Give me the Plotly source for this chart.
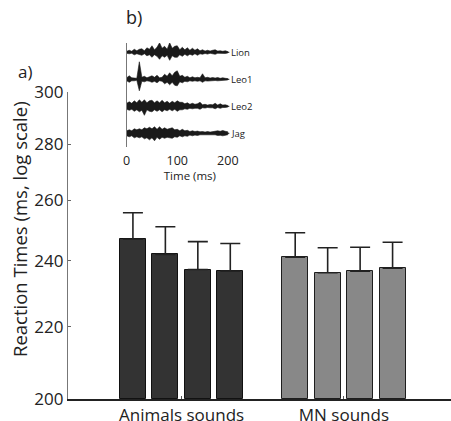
import math
import plotly.graph_objects as go

# ---------------- data ----------------
categories = ["Animals sounds", "MN sounds"]
bar_offsets = [-0.3, -0.1, 0.1, 0.3]
animals_rt = [247.0, 242.1, 237.3, 236.8]
animals_err = [8.8, 9.0, 8.9, 8.8]
mn_rt = [241.2, 236.3, 236.8, 237.7]
mn_err = [7.9, 7.9, 7.6, 8.3]
y_ticks = [200, 220, 240, 260, 280, 300]

# inset: waveform envelopes (amplitude, a.u.) sampled every 5 ms
time_ms = list(range(0, 205, 5))
wave_names = ["Lion", "Leo1", "Leo2", "Jag"]
lion_up = [1, 2, 1, 3, 1.5, 3, 3.5, 1.5, 4.5, 3, 6.5, 2.5, 5, 9.5, 4, 6, 3, 9.5, 4, 6, 6.5,
           2.5, 5, 2.5, 4.5, 2, 4, 2, 3.5, 1.5, 2.5, 1.2, 2, 1.2, 2, 2.5, 1.2, 1.5, 1, 1.5, 0.7]
lion_dn = [1, 1.5, 1, 2.5, 1.5, 2.5, 3, 1.5, 3.5, 2.5, 5, 2.5, 4, 7, 3.5, 5, 3, 8, 3.5, 5, 5,
           2.5, 4, 2, 3.5, 2, 3, 1.5, 3, 1.5, 2, 1.2, 1.8, 1, 1.8, 2, 1, 1.5, 1, 1.2, 0.7]
leo1_up = [1.5, 3.5, 1.5, 1.5, 1, 17.5, 2, 3, 1.5, 2.5, 3.5, 2, 4, 1.5, 2, 5, 3, 6.5, 3.5, 7, 8.5,
           3, 4, 2, 3, 1.5, 2.5, 1.5, 2, 1.5, 5.5, 1.5, 2, 1.2, 1.8, 1.2, 1.8, 1, 1.5, 1, 0.7]
leo1_dn = [1.5, 3, 1.5, 1.5, 1, 11.5, 2, 2.5, 1.5, 2, 3, 2, 3.5, 1.5, 2, 4.5, 3, 5.5, 3, 6, 6.5,
           2.5, 3.5, 2, 2.5, 1.5, 2, 1.5, 2, 1.5, 3, 1.5, 1.8, 1.2, 1.5, 1.2, 1.5, 1, 1.2, 1, 0.7]
leo2_up = [3, 4.5, 3, 5.5, 3.5, 6.5, 4, 6.5, 3.5, 5.5, 6, 3.5, 5.5, 3.5, 6, 3.5, 5, 3, 5, 3.5, 5.5,
           4, 4, 2.5, 3.5, 2, 3, 2, 2.5, 4, 1.5, 2, 1.2, 1.8, 1.5, 3, 1.2, 2.5, 1.2, 1.5, 0.8]
leo2_dn = [3, 4, 3, 5, 3.5, 5.5, 4, 9, 3.5, 5, 5.5, 3.5, 5, 3.5, 5.5, 3.5, 4.5, 3, 4.5, 3, 5,
           3.5, 3.5, 2.5, 3, 2, 2.5, 2, 2, 3, 1.5, 1.8, 1.2, 1.5, 1.5, 2.5, 1.2, 2, 1.2, 1.2, 0.8]
jag_up = [2.5, 3.5, 2.5, 4.5, 3.5, 4.5, 3.5, 5.5, 4.5, 6, 4.5, 6.5, 4, 6.5, 4, 5.5, 4, 4.5, 5.5, 3.5, 4,
          2.5, 4, 2.5, 3, 1.8, 2.5, 1.8, 2.2, 1.5, 1.8, 1.2, 1.8, 1.2, 1.5, 1.5, 2.5, 2, 2.8, 2, 1.5]
jag_dn = [2.5, 3.5, 2.5, 4.5, 3.5, 4.5, 3.5, 5.5, 4.5, 6.5, 4.5, 7.5, 4, 6, 4, 5, 4, 4.5, 5, 3.5, 4,
          2.5, 3.5, 2.5, 3, 1.8, 2.5, 1.8, 2.2, 1.5, 1.8, 1.2, 1.8, 1.2, 1.5, 1.5, 2.2, 2, 2.5, 2, 1.5]
inset_ticks = [0, 100, 200]

# ---------------- figure ----------------
W, H = 451, 421
FONT = "Open Sans"
fig = go.Figure()

BASE = 200
groups = [(animals_rt, animals_err, 1, "#333333", "#111111"),
          (mn_rt, mn_err, 2, "#888888", "#1e1e1e")]
for vals, errs, center, fill, edge in groups:
    fig.add_trace(go.Bar(
        x=[center + o for o in bar_offsets],
        y=[v - BASE for v in vals],
        base=[BASE] * len(vals),
        width=0.16,
        marker=dict(color=fill, line=dict(color=edge, width=1)),
        error_y=dict(type="data", array=errs, arrayminus=[0] * len(errs),
                     symmetric=False, color="#222222", thickness=1.6, width=10),
        showlegend=False, hoverinfo="skip",
    ))

# inset waveforms
AMP = 1 / 27.0
wave_sets = [(lion_up, lion_dn), (leo1_up, leo1_dn), (leo2_up, leo2_dn), (jag_up, jag_dn)]
n = len(wave_sets)
for k, (name, (up, dn)) in enumerate(zip(wave_names, wave_sets)):
    off = n - 1 - k
    fig.add_trace(go.Scatter(x=[time_ms[0], time_ms[-1] + 3], y=[off, off], mode="lines",
                             line=dict(color="#1a1a1a", width=1), xaxis="x2", yaxis="y2",
                             showlegend=False, hoverinfo="skip"))
    xs = time_ms + time_ms[::-1]
    ys = [off + a * AMP for a in up] + [off - a * AMP for a in dn[::-1]]
    fig.add_trace(go.Scatter(x=xs, y=ys, mode="lines", fill="toself", fillcolor="#1a1a1a",
                             line=dict(color="#1a1a1a", width=0.6), xaxis="x2", yaxis="y2",
                             showlegend=False, hoverinfo="skip"))
    fig.add_annotation(x=time_ms[-1] + 3, y=off, xref="x2", yref="y2", text=name,
                       showarrow=False, xanchor="left", yanchor="middle",
                       font=dict(family=FONT, size=9.5, color="#222222"))

fig.update_layout(
    width=W, height=H,
    margin=dict(l=0, r=0, t=0, b=0),
    paper_bgcolor="white", plot_bgcolor="rgba(0,0,0,0)",
    font=dict(family=FONT, color="#222222"),
    barmode="overlay", bargap=0,
    xaxis=dict(domain=[68 / W, 1], range=[0.3, 2.66], tickvals=[1, 2], ticktext=categories,
               ticks="inside", ticklen=3, tickcolor="#555555", showline=True,
               linecolor="#222222", linewidth=1.5, showgrid=False, zeroline=False,
               tickfont=dict(size=17, family=FONT, color="#222222"), automargin=False),
    yaxis=dict(domain=[22 / H, 329 / H], type="log",
               range=[math.log10(200), math.log10(300)], tickvals=y_ticks,
               ticktext=[str(t) for t in y_ticks], ticks="inside", ticklen=3,
               tickcolor="#666666", showline=True, linecolor="#777777", linewidth=1.2,
               showgrid=False, zeroline=False,
               tickfont=dict(size=17, family=FONT, color="#222222"), automargin=False),
    xaxis2=dict(domain=[126.7 / W, (126.7 + 250 * 0.5055) / W], range=[0, 250],
                anchor="y2", tickvals=inset_ticks, ticks="", showline=False, showgrid=False,
                zeroline=False, ticklabelstandoff=4,
                tickfont=dict(size=12.5, family=FONT, color="#222222"),
                title=dict(text="Time (ms)", font=dict(size=11.5, family=FONT), standoff=2),
                automargin=False),
    yaxis2=dict(domain=[(H - 147) / H, (H - 43) / H], range=[-0.507, 3.344], anchor="x2",
                showticklabels=False, ticks="", showline=True, linecolor="#777777",
                linewidth=1.2, showgrid=False, zeroline=False, automargin=False),
)

fig.add_annotation(x=19 / W, y=(H - 229) / H, xref="paper", yref="paper",
                   xanchor="center", yanchor="middle",
                   text="Reaction Times (ms, log scale)", textangle=-90, showarrow=False,
                   font=dict(family=FONT, size=18.5, color="#222222"))
fig.add_annotation(x=25 / W, y=(H - 71) / H, xref="paper", yref="paper", text="a)",
                   xanchor="center", yanchor="middle",
                   showarrow=False, font=dict(family=FONT, size=17, color="#222222"))
fig.add_annotation(x=134 / W, y=(H - 17) / H, xref="paper", yref="paper", text="b)",
                   xanchor="center", yanchor="middle",
                   showarrow=False, font=dict(family=FONT, size=18, color="#222222"))

fig.write_html("out.html")
